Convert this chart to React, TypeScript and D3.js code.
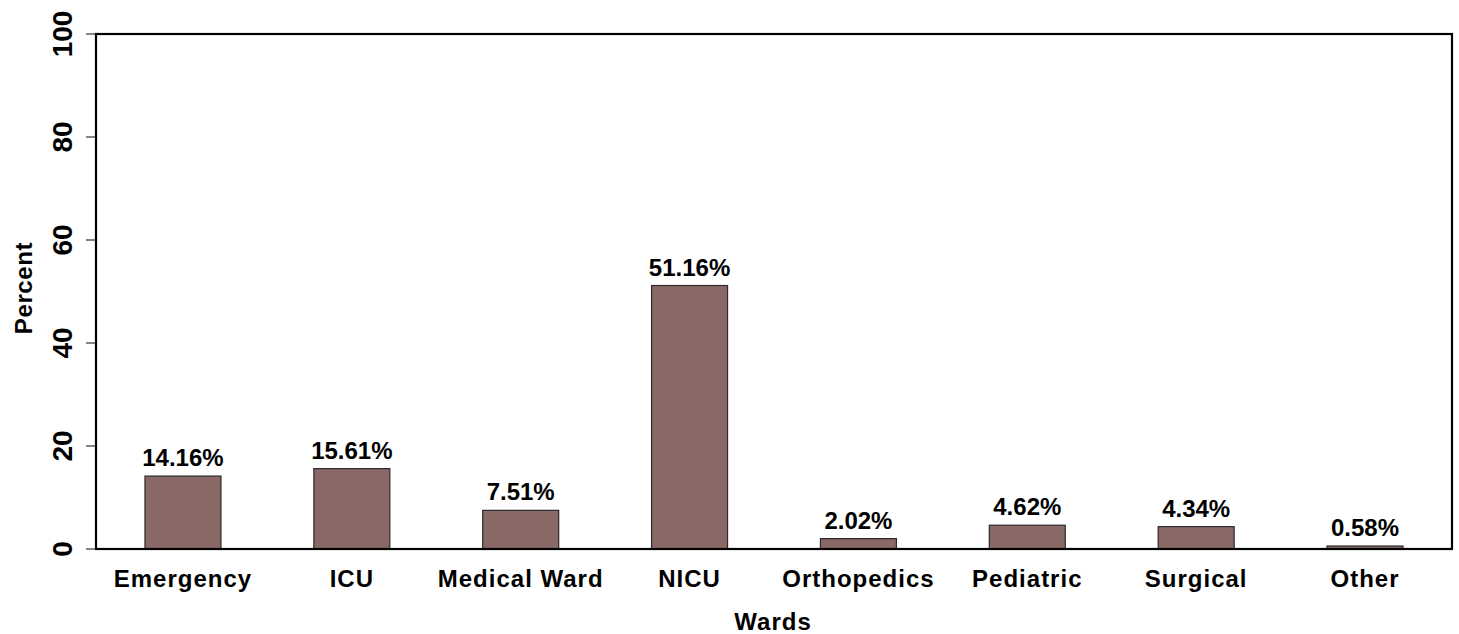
import * as d3 from 'd3';
import React, {useEffect, useRef} from 'react';

const wards = ["Emergency", "ICU", "Medical Ward", "NICU", "Orthopedics", "Pediatric", "Surgical", "Other"];
const percents = [14.16, 15.61, 7.51, 51.16, 2.02, 4.62, 4.34, 0.58];
const yTicks = [0, 20, 40, 60, 80, 100];

const W = 1459, H = 634;
const box = {l: 96, r: 1452, t: 34, b: 549};
const font = "'Liberation Sans', Arial, sans-serif";

export default function App() {
    const ref = useRef<SVGSVGElement>(null);

    useEffect(() => {
        const svg = d3.select(ref.current);
        svg.selectAll("*").remove();

        const x = d3.scaleBand().domain(wards)
            .range([box.l, box.r])
            .paddingInner(0.55)
            .paddingOuter(0.29);
        const y = d3.scaleLinear().domain([0, 100]).range([box.b, box.t]);

        // bars
        svg.append("g").selectAll("rect")
            .data(wards)
          .enter().append("rect")
            .attr("x", (d) => x(d))
            .attr("y", (d, i) => y(percents[i]))
            .attr("width", x.bandwidth())
            .attr("height", (d, i) => y(0) - y(percents[i]))
            .attr("fill", "#8a6866")
            .attr("stroke", "#2b2b2b")
            .attr("stroke-width", 1.2);

        // value labels
        svg.append("g").selectAll("text")
            .data(wards)
          .enter().append("text")
            .attr("x", (d) => x(d) + x.bandwidth() / 2)
            .attr("y", (d, i) => y(percents[i]) - 10)
            .attr("text-anchor", "middle")
            .style("font-family", font)
            .style("font-weight", "bold")
            .style("font-size", "24px")
            .text((d, i) => `${percents[i].toFixed(2)}%`);

        // x category labels
        svg.append("g").selectAll("text")
            .data(wards)
          .enter().append("text")
            .attr("x", (d) => x(d) + x.bandwidth() / 2)
            .attr("y", 587)
            .attr("text-anchor", "middle")
            .style("font-family", font)
            .style("font-weight", "bold")
            .style("font-size", "24px")
            .style("letter-spacing", "1px")
            .text((d) => d);

        // y axis ticks
        const yAxis = svg.append("g");
        yAxis.selectAll("line")
            .data(yTicks)
          .enter().append("line")
            .attr("x1", box.l - 10)
            .attr("x2", box.l)
            .attr("y1", (d) => y(d))
            .attr("y2", (d) => y(d))
            .attr("stroke", "#333")
            .attr("stroke-width", 1.2);
        yAxis.selectAll("text")
            .data(yTicks)
          .enter().append("text")
            .attr("transform", (d) => `translate(72, ${y(d)}) rotate(-90)`)
            .attr("text-anchor", "middle")
            .style("font-family", font)
            .style("font-weight", "bold")
            .style("font-size", "28px")
            .text((d) => d);

        // plot box
        svg.append("rect")
            .attr("x", box.l)
            .attr("y", box.t)
            .attr("width", box.r - box.l)
            .attr("height", box.b - box.t)
            .attr("fill", "none")
            .attr("stroke", "#000")
            .attr("stroke-width", 2.2);

        // axis titles
        svg.append("text")
            .attr("transform", `translate(32, 288) rotate(-90)`)
            .attr("text-anchor", "middle")
            .style("font-family", font)
            .style("font-weight", "bold")
            .style("font-size", "24px")
            .style("letter-spacing", "0.6px")
            .text("Percent");

        svg.append("text")
            .attr("x", (box.l + box.r) / 2 - 1)
            .attr("y", 630)
            .attr("text-anchor", "middle")
            .style("font-family", font)
            .style("font-weight", "bold")
            .style("font-size", "24px")
            .style("letter-spacing", "1px")
            .text("Wards");
    }, []);

    return (
        <svg ref={ref} width={W} height={H}
             style={{position: "absolute", left: 0, top: 0, background: "#fff"}} />
    );
}
